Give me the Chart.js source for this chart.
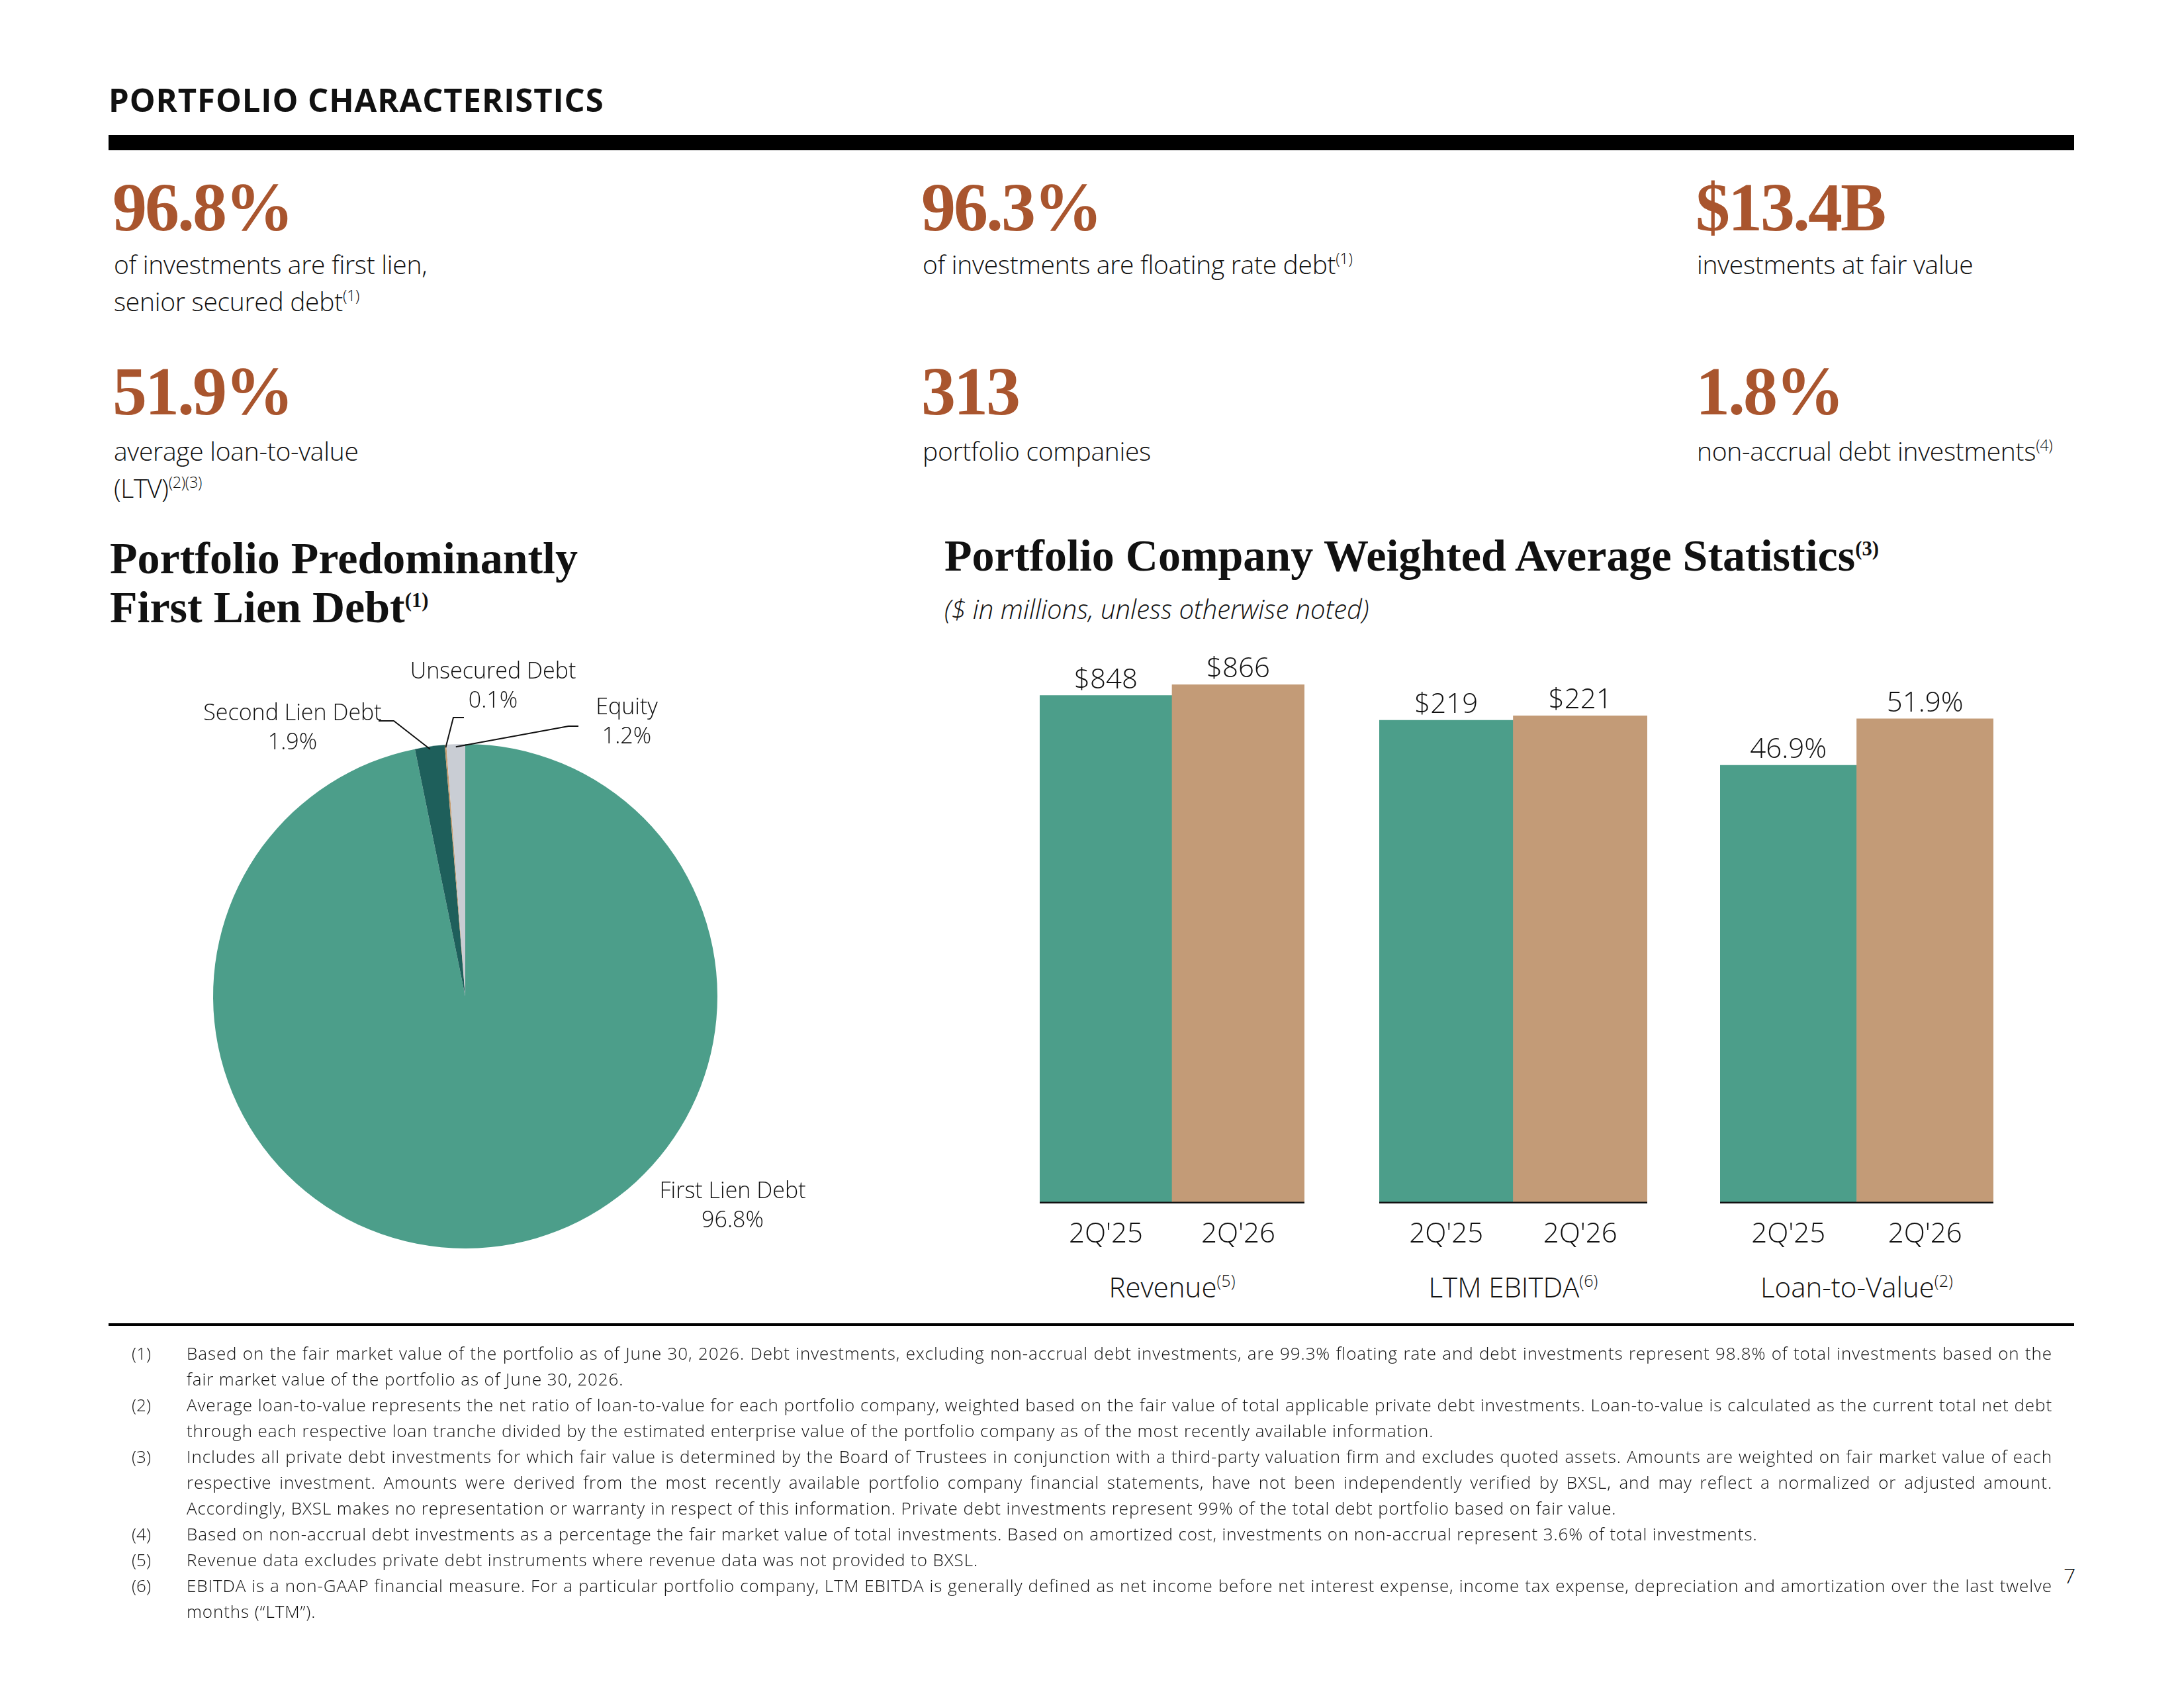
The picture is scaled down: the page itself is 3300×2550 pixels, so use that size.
<!DOCTYPE html>
<html lang="en">
<head>
<meta charset="UTF-8">
<title>Portfolio Characteristics</title>
<script src="https://cdn.jsdelivr.net/npm/chart.js"></script>
<style>
  body { margin:0; width:3300px; height:2550px; background:#fff; position:relative; overflow:hidden;
         font-family:"Open Sans", sans-serif; color:#111; }
  .abs { position:absolute; }
  sup { font-size:0.6em; line-height:0; vertical-align:0.65em; }
  .title { left:164px; top:120px; font-weight:700; font-size:49px; line-height:60px; letter-spacing:0.9px; }
  .bar-top { left:164px; top:204px; width:2970px; height:23px; background:#000; }
  .big { font-family:"Liberation Serif", serif; font-weight:700; font-size:104px; line-height:104px;
         color:#A9552E; letter-spacing:-3px; }
  .desc { font-weight:300; font-size:39px; line-height:56px; letter-spacing:-0.3px; }
  .head { font-family:"Liberation Serif", serif; font-weight:700; font-size:68px; line-height:74px; letter-spacing:0; }
  .head sup { font-size:0.45em; vertical-align:0.75em; }
  .sub { font-style:italic; font-weight:300; font-size:40px; line-height:44px; }
  .grp { font-weight:300; font-size:42px; line-height:50px; text-align:center; top:1919px; }
  .rule { left:164px; top:1999px; width:2970px; height:4px; background:#000; }
  .notes { left:199px; top:2025px; width:2902px; font-weight:300; font-size:26px; line-height:39px; letter-spacing:0.9px; }
  .note { display:flex; }
  .note .n { width:83px; flex:none; letter-spacing:0; }
  .note .t { flex:1; text-align:justify; }
  .page { left:3118px; top:2358px; font-size:32px; font-weight:300; }
  canvas { position:absolute; }
</style>
</head>
<body>
  <div class="abs title">PORTFOLIO CHARACTERISTICS</div>
  <div class="abs bar-top"></div>

  <div class="abs big" style="left:170px; top:261px;">96.8%</div>
  <div class="abs desc" style="left:172px; top:371px;">of investments are first lien,<br>senior secured debt<sup>(1)</sup></div>
  <div class="abs big" style="left:1392px; top:261px;">96.3%</div>
  <div class="abs desc" style="left:1394px; top:371px;">of investments are floating rate debt<sup>(1)</sup></div>
  <div class="abs big" style="left:2562px; top:261px;">$13.4B</div>
  <div class="abs desc" style="left:2564px; top:371px;">investments at fair value</div>

  <div class="abs big" style="left:170px; top:539px;">51.9%</div>
  <div class="abs desc" style="left:172px; top:653px;">average loan-to-value<br>(LTV)<sup>(2)(3)</sup></div>
  <div class="abs big" style="left:1392px; top:539px;">313</div>
  <div class="abs desc" style="left:1394px; top:653px;">portfolio companies</div>
  <div class="abs big" style="left:2562px; top:539px;">1.8%</div>
  <div class="abs desc" style="left:2564px; top:653px;">non-accrual debt investments<sup>(4)</sup></div>

  <div class="abs head" style="left:166px; top:806px;">Portfolio Predominantly<br>First Lien Debt<sup>(1)</sup></div>
  <div class="abs head" style="left:1427px; top:802px;">Portfolio Company Weighted Average Statistics<sup>(3)</sup></div>
  <div class="abs sub" style="left:1427px; top:898px;">($ in millions, unless otherwise noted)</div>

  <canvas id="pie" width="1100" height="1120" style="left:154px; top:960px;"></canvas>
  <canvas id="revChart" width="400" height="1014" style="left:1571px; top:900px;"></canvas>
  <canvas id="ebitdaChart" width="405" height="1014" style="left:2084px; top:900px;"></canvas>
  <canvas id="ltvChart" width="413" height="1014" style="left:2599px; top:900px;"></canvas>

  <div class="abs grp" style="left:1571px; width:400px;">Revenue<sup>(5)</sup></div>
  <div class="abs grp" style="left:2084px; width:405px;">LTM EBITDA<sup>(6)</sup></div>
  <div class="abs grp" style="left:2599px; width:413px;">Loan-to-Value<sup>(2)</sup></div>

  <div class="abs rule"></div>

  <div class="abs notes">
    <div class="note"><div class="n">(1)</div><div class="t">Based on the fair market value of the portfolio as of June 30, 2026. Debt investments, excluding non-accrual debt investments, are 99.3% floating rate and debt investments represent 98.8% of total investments based on the fair market value of the portfolio as of June 30, 2026.</div></div>
    <div class="note"><div class="n">(2)</div><div class="t">Average loan-to-value represents the net ratio of loan-to-value for each portfolio company, weighted based on the fair value of total applicable private debt investments. Loan-to-value is calculated as the current total net debt through each respective loan tranche divided by the estimated enterprise value of the portfolio company as of the most recently available information.</div></div>
    <div class="note"><div class="n">(3)</div><div class="t">Includes all private debt investments for which fair value is determined by the Board of Trustees in conjunction with a third-party valuation firm and excludes quoted assets. Amounts are weighted on fair market value of each respective investment. Amounts were derived from the most recently available portfolio company financial statements, have not been independently verified by BXSL, and may reflect a normalized or adjusted amount. Accordingly, BXSL makes no representation or warranty in respect of this information. Private debt investments represent 99% of the total debt portfolio based on fair value.</div></div>
    <div class="note"><div class="n">(4)</div><div class="t">Based on non-accrual debt investments as a percentage the fair market value of total investments. Based on amortized cost, investments on non-accrual represent 3.6% of total investments.</div></div>
    <div class="note"><div class="n">(5)</div><div class="t">Revenue data excludes private debt instruments where revenue data was not provided to BXSL.</div></div>
    <div class="note"><div class="n">(6)</div><div class="t">EBITDA is a non-GAAP financial measure. For a particular portfolio company, LTM EBITDA is generally defined as net income before net interest expense, income tax expense, depreciation and amortization over the last twelve months (“LTM”).</div></div>
  </div>
  <div class="abs page">7</div>

<script>
  // pie: portfolio mix (%)
  const sliceNames = ['First Lien Debt', 'Second Lien Debt', 'Unsecured Debt', 'Equity'];
  const sliceShares = [96.8, 1.9, 0.1, 1.2];

  // bars: weighted average stats
  const periods = ["2Q'25", "2Q'26"];
  const revenue = [848, 866];
  const ebitda = [219, 221];
  const ltv = [46.9, 51.9];

  const green = '#4C9E8A';
  const tan = '#C39B77';
  const sliceColors = [green, '#1E5F5B', '#C49A6C', '#C9CDD4'];

  // where each pie label sits, relative to the pie centre; leader = [startX, y, elbowX]
  const pieLayout = [
    { dx: 404, dy: 317 },
    { dx: -261, dy: -405, leader: [-131, -416, -108] },
    { dx: 42, dy: -468, leader: [-2, -421, -18] },
    { dx: 244, dy: -414, leader: [171, -408, 156] }
  ];

  const pieLabels = {
    id: 'pieLabels',
    afterDatasetsDraw(chart) {
      const ctx = chart.ctx;
      const meta = chart.getDatasetMeta(0);
      ctx.save();
      ctx.font = '300 34px "Open Sans"';
      ctx.fillStyle = '#111';
      ctx.strokeStyle = '#111';
      ctx.lineWidth = 2;
      ctx.textAlign = 'center';
      ctx.textBaseline = 'middle';
      meta.data.forEach((arc, i) => {
        const p = arc.getProps(['x', 'y', 'startAngle', 'endAngle', 'outerRadius']);
        const L = pieLayout[i];
        ctx.fillText(sliceNames[i], p.x + L.dx, p.y + L.dy - 22);
        ctx.fillText(sliceShares[i].toFixed(1) + '%', p.x + L.dx, p.y + L.dy + 22);
        if (L.leader) {
          const mid = (p.startAngle + p.endAngle) / 2;
          ctx.beginPath();
          ctx.moveTo(p.x + L.leader[0], p.y + L.leader[1]);
          ctx.lineTo(p.x + L.leader[2], p.y + L.leader[1]);
          ctx.lineTo(p.x + Math.cos(mid) * (p.outerRadius - 4), p.y + Math.sin(mid) * (p.outerRadius - 4));
          ctx.stroke();
        }
      });
      ctx.restore();
    }
  };

  new Chart(document.getElementById('pie'), {
    type: 'pie',
    data: {
      labels: sliceNames,
      datasets: [{ data: sliceShares, backgroundColor: sliceColors, borderWidth: 0 }]
    },
    options: {
      responsive: false,
      animation: false,
      layout: { padding: { left: 168, right: 170, top: 164, bottom: 194 } },
      plugins: { legend: { display: false }, tooltip: { enabled: false } }
    },
    plugins: [pieLabels]
  });

  function valueLabels(fmt) {
    return {
      id: 'valueLabels',
      afterDatasetsDraw(chart) {
        const ctx = chart.ctx;
        const vals = chart.data.datasets[0].data;
        ctx.save();
        ctx.font = '300 42px "Open Sans"';
        ctx.fillStyle = '#111';
        ctx.textAlign = 'center';
        ctx.textBaseline = 'alphabetic';
        chart.getDatasetMeta(0).data.forEach((bar, i) => {
          ctx.fillText(fmt(vals[i]), bar.x, bar.y - 11);
        });
        ctx.restore();
      }
    };
  }

  function makeBars(id, values, yMax, fmt) {
    return new Chart(document.getElementById(id), {
      type: 'bar',
      data: {
        labels: periods,
        datasets: [{
          data: values,
          backgroundColor: [green, tan],
          borderWidth: 0,
          barPercentage: 1,
          categoryPercentage: 1
        }]
      },
      options: {
        responsive: false,
        animation: false,
        layout: { padding: { top: 100, left: 0, right: 0, bottom: 0 } },
        plugins: { legend: { display: false }, tooltip: { enabled: false } },
        scales: {
          y: { display: false, min: 0, max: yMax },
          x: {
            grid: { display: false, drawTicks: false },
            border: { display: true, color: '#111', width: 4 },
            ticks: { color: '#111', padding: 24, font: { family: 'Open Sans', size: 42, weight: 300 } }
          }
        }
      },
      plugins: [valueLabels(fmt)]
    });
  }

  makeBars('revChart', revenue, 904, v => '$' + v);
  makeBars('ebitdaChart', ebitda, 245.5, v => '$' + v);
  makeBars('ltvChart', ltv, 58, v => v.toFixed(1) + '%');
</script>
</body>
</html>
